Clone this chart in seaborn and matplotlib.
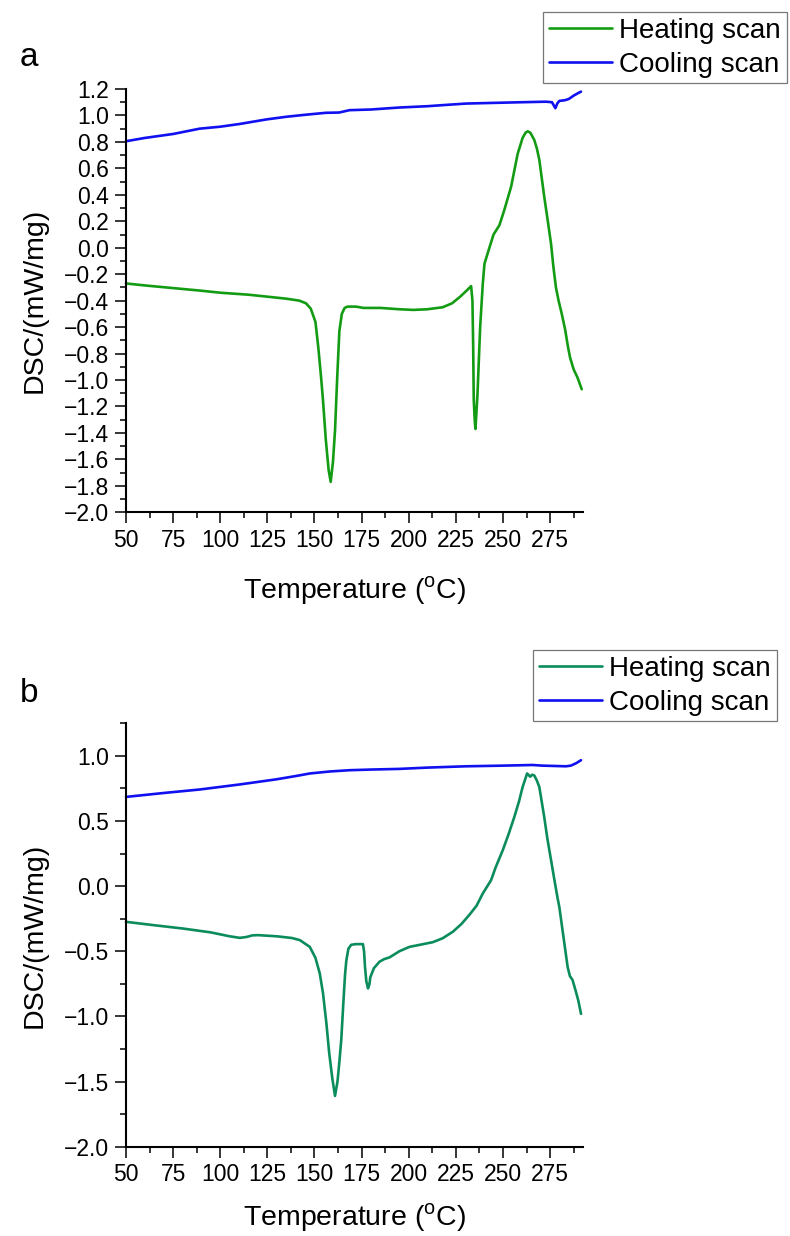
import numpy as np
import pandas as pd
import matplotlib
matplotlib.use("Agg")
import matplotlib.pyplot as plt
from matplotlib.ticker import MultipleLocator, FuncFormatter
import seaborn as sns

# ---------------- data ----------------
# Panel a - heating scan
a_heat_T = [50, 60, 75, 90, 100, 115, 125, 135, 142, 145.5, 148, 150.5, 152, 153.5, 154.5, 156, 157.5,
            158.6, 159.8, 160.9, 162, 163.2, 164.5, 166, 167.5, 172, 176, 185, 195, 202.5, 210, 218, 223,
            227.3, 231, 233.1, 233.8, 234.2, 234.5, 235.0, 235.4, 235.9, 236.5, 237.2, 237.9, 239.3, 240.2,
            242.8, 245, 248.1, 250.7, 254.3, 257.8, 260.4, 262, 263.1, 264.5, 266.6, 268, 269.3, 271.9,
            273.7, 275.5, 276.8, 278.1, 279.5, 281.2, 283, 284.5, 285.6, 287.5, 289.5, 291.8]
a_heat_v = [-0.27, -0.285, -0.305, -0.325, -0.34, -0.355, -0.37, -0.385, -0.40, -0.42, -0.46, -0.56, -0.75,
            -0.98, -1.15, -1.45, -1.68, -1.77, -1.62, -1.38, -1.00, -0.63, -0.50, -0.455, -0.445, -0.445,
            -0.455, -0.455, -0.465, -0.47, -0.465, -0.45, -0.42, -0.37, -0.32, -0.29, -0.40, -0.75, -1.15,
            -1.30, -1.37, -1.25, -1.10, -0.85, -0.60, -0.27, -0.12, 0.0, 0.10, 0.17, 0.285, 0.46, 0.71, 0.83,
            0.87, 0.88, 0.87, 0.815, 0.75, 0.663, 0.385, 0.21, 0.03, -0.15, -0.30, -0.40, -0.50, -0.62, -0.75,
            -0.83, -0.92, -0.98, -1.07]

# Panel a - cooling scan
a_cool_T = [50, 60, 75, 89, 100, 110, 124.5, 135, 145, 156, 163, 168.6, 180, 195, 210, 220, 230.5, 245,
            260, 272.8, 276, 277.8, 278.8, 279.9, 282.8, 285, 287.5, 290, 291.4]
a_cool_v = [0.805, 0.83, 0.86, 0.90, 0.915, 0.935, 0.97, 0.99, 1.005, 1.02, 1.022, 1.04, 1.045, 1.06, 1.07,
            1.08, 1.09, 1.095, 1.10, 1.104, 1.10, 1.055, 1.09, 1.11, 1.115, 1.125, 1.15, 1.17, 1.18]

# Panel b - heating scan
b_heat_T = [50, 65, 80, 95, 105, 110.4, 114, 117, 120, 130, 138, 142.2, 147.5, 150.5, 152.8, 154.5, 156.3,
            157.8, 159.5, 160.9, 162.2, 163.2, 164.2, 165.3, 166.2, 166.9, 168, 169.5, 172, 175.7, 176.3,
            176.8, 177.5, 178.4, 179.2, 179.6, 181.5, 184.5, 187, 189.8, 195, 200.4, 206, 212.8, 218, 223.4,
            228, 232.2, 236, 239.3, 243.7, 246, 249.9, 253, 256, 258.5, 260.4, 262.8, 263.5, 264.4, 265.5,
            266.6, 268, 269.3, 271.9, 273.5, 275.5, 277.5, 279, 279.9, 282, 284.3, 285.5, 286.9, 288.5, 290,
            291.4]
b_heat_v = [-0.274, -0.30, -0.325, -0.355, -0.385, -0.397, -0.39, -0.378, -0.376, -0.385, -0.398, -0.414,
            -0.466, -0.55, -0.67, -0.82, -1.05, -1.28, -1.48, -1.61, -1.50, -1.35, -1.18, -0.90, -0.68, -0.57,
            -0.48, -0.45, -0.445, -0.445, -0.50, -0.62, -0.73, -0.785, -0.75, -0.70, -0.63, -0.58, -0.56,
            -0.547, -0.50, -0.466, -0.45, -0.43, -0.40, -0.35, -0.29, -0.22, -0.15, -0.056, 0.046, 0.14, 0.276,
            0.40, 0.53, 0.65, 0.76, 0.865, 0.855, 0.84, 0.855, 0.85, 0.81, 0.76, 0.53, 0.37, 0.20, 0.03, -0.094,
            -0.16, -0.38, -0.62, -0.69, -0.72, -0.80, -0.88, -0.98]

# Panel b - cooling scan
b_cool_T = [50, 70, 89.2, 110, 129.8, 140, 147.6, 158, 168.6, 180, 195, 210, 230.4, 250, 265.7, 271, 283.4,
            286, 289, 291.4]
b_cool_v = [0.685, 0.715, 0.742, 0.78, 0.82, 0.845, 0.865, 0.88, 0.89, 0.895, 0.90, 0.91, 0.92, 0.925, 0.93,
            0.925, 0.92, 0.925, 0.945, 0.967]

series_labels = ["Heating scan", "Cooling scan"]
panel_labels = ["a", "b"]
x_ticks = [50, 75, 100, 125, 150, 175, 200, 225, 250, 275]
xlabel = r"Temperature ($^{\mathrm{o}}$C)"
ylabel = "DSC/(mW/mg)"

# ---------------- style ----------------
sns.set_style("ticks")
plt.rcParams["font.family"] = ["Liberation Sans", "DejaVu Sans"]
plt.rcParams["mathtext.fontset"] = "custom"
plt.rcParams["mathtext.rm"] = "Liberation Sans"
for k in ["text.color", "axes.labelcolor", "xtick.color", "ytick.color", "axes.edgecolor"]:
    plt.rcParams[k] = "black"

W, H = 790, 1236
fig = plt.figure(figsize=(W / 100, H / 100), dpi=100)

def fx(px):
    return px / W

def fy(py):
    return 1 - py / H

ax_a = fig.add_axes([fx(126), fy(512.3), fx(582.7) - fx(126), fy(89) - fy(512.3)])
ax_b = fig.add_axes([fx(126), fy(1146.7), fx(582.7) - fx(126), fy(723.3) - fy(1146.7)])

heat_colors = ["#139c13", "#0b8c5c"]
cool_color = "#1010f0"

minus_fmt = FuncFormatter(lambda v, p: f"{v:.1f}".replace("-", "\u2212"))

panels = [
    (ax_a, a_heat_T, a_heat_v, a_cool_T, a_cool_v, heat_colors[0], (-2.0, 1.2), 0.2, 0.1, 543, 12, 16),
    (ax_b, b_heat_T, b_heat_v, b_cool_T, b_cool_v, heat_colors[1], (-2.0, 1.25), 0.5, 0.25, 533, 650, 11),
]

for i, (ax, hT, hv, cT, cv, hc, ylim, ymaj, ymin, leg_x, leg_y, xpad) in enumerate(panels):
    df_h = pd.DataFrame({"T": hT, "v": hv})
    df_c = pd.DataFrame({"T": cT, "v": cv})
    sns.lineplot(data=df_h, x="T", y="v", ax=ax, sort=False, estimator=None, color=hc,
                 linewidth=1.9, label=series_labels[0])
    sns.lineplot(data=df_c, x="T", y="v", ax=ax, sort=False, estimator=None, color=cool_color,
                 linewidth=1.9, label=series_labels[1])
    for ln in ax.lines:
        ln.set_clip_on(False)
    ax.set_xlim(50, 292.3)
    ax.set_ylim(*ylim)
    ax.set_xticks(x_ticks)
    ax.xaxis.set_minor_locator(MultipleLocator(12.5))
    ax.yaxis.set_major_locator(MultipleLocator(ymaj))
    ax.yaxis.set_minor_locator(MultipleLocator(ymin))
    ax.yaxis.set_major_formatter(minus_fmt)
    ax.tick_params(which="major", direction="out", length=8, width=1.1, pad=4,
                   color="black", labelcolor="black", labelsize=16.5)
    ax.tick_params(which="minor", direction="out", length=4.5, width=1.1, color="black")
    sns.despine(ax=ax)
    for s in ["left", "bottom"]:
        ax.spines[s].set_linewidth(1.5)
        ax.spines[s].set_color("black")
    ax.set_xlabel(xlabel, fontsize=20.5, labelpad=xpad)
    ax.set_ylabel(ylabel, fontsize=20.5, labelpad=12)
    ax.legend_.remove()
    handles, labels = ax.get_legend_handles_labels()
    leg = fig.legend(handles, labels, loc="upper left",
                     bbox_to_anchor=(fx(leg_x), fy(leg_y)), bbox_transform=fig.transFigure,
                     borderaxespad=0, fontsize=20, frameon=True, fancybox=False,
                     edgecolor="#777777", framealpha=1, borderpad=0.2, labelspacing=0.3,
                     handlelength=2.3, handletextpad=0.25)
    leg.get_frame().set_linewidth(0.9)
    for t in leg.get_texts():
        t.set_color("black")
    fig.text(fx(20), fy(66 if i == 0 else 702), panel_labels[i], fontsize=24, va="baseline", ha="left")

fig.savefig("out.png", dpi=100)
